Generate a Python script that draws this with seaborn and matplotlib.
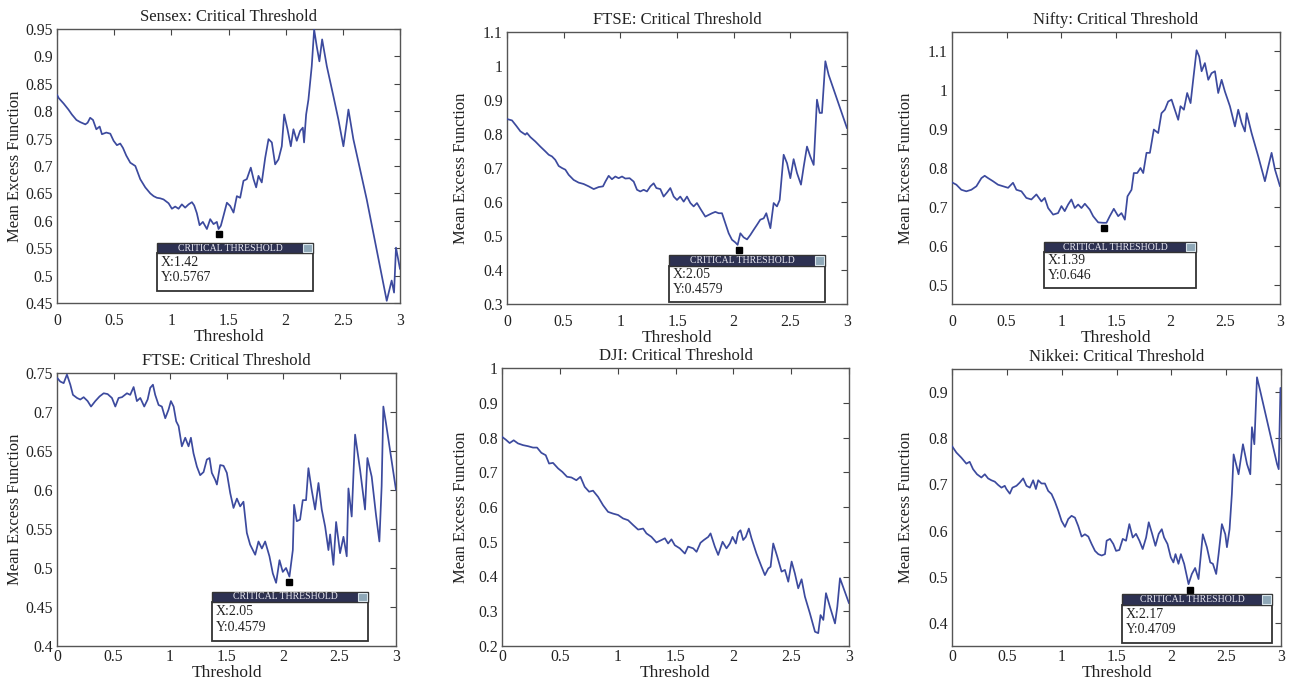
import matplotlib
matplotlib.use("Agg")
import matplotlib.pyplot as plt
from matplotlib.patches import Rectangle
from matplotlib.ticker import MultipleLocator, FuncFormatter
import pandas as pd
import seaborn as sns

# ---------------- data ----------------
titles = ["Sensex: Critical Threshold", "FTSE: Critical Threshold", "Nifty: Critical Threshold",
          "FTSE: Critical Threshold", "DJI: Critical Threshold", "Nikkei: Critical Threshold"]

sensex_x = [0, 0.015, 0.058, 0.10, 0.13, 0.17, 0.204, 0.248, 0.268, 0.29, 0.315, 0.344, 0.373, 0.393,
            0.431, 0.466, 0.495, 0.524, 0.553, 0.577, 0.606, 0.641, 0.685, 0.728, 0.772, 0.816, 0.845,
            0.874, 0.903, 0.932, 0.976, 1.005, 1.034, 1.063, 1.092, 1.121, 1.151, 1.180, 1.200, 1.223,
            1.247, 1.276, 1.311, 1.340, 1.369, 1.398, 1.413, 1.433, 1.456, 1.486, 1.515, 1.544, 1.573,
            1.602, 1.631, 1.660, 1.695, 1.719, 1.742, 1.762, 1.791, 1.821, 1.850, 1.879, 1.908, 1.937,
            1.966, 1.987, 2.016, 2.045, 2.068, 2.097, 2.126, 2.150, 2.161, 2.179, 2.199, 2.228, 2.249,
            2.272, 2.295, 2.319, 2.360, 2.418, 2.461, 2.505, 2.534, 2.549, 2.592, 2.709, 2.884, 2.927,
            2.948, 2.965, 3.0]
sensex_y = [0.830, 0.824, 0.814, 0.803, 0.794, 0.784, 0.780, 0.776, 0.779, 0.788, 0.784, 0.767, 0.772,
            0.758, 0.761, 0.759, 0.746, 0.738, 0.741, 0.733, 0.719, 0.706, 0.700, 0.676, 0.661, 0.650,
            0.645, 0.642, 0.641, 0.639, 0.632, 0.622, 0.626, 0.622, 0.630, 0.624, 0.630, 0.634, 0.628,
            0.614, 0.592, 0.598, 0.585, 0.603, 0.594, 0.598, 0.585, 0.591, 0.609, 0.633, 0.627, 0.615,
            0.645, 0.642, 0.673, 0.676, 0.697, 0.676, 0.661, 0.682, 0.670, 0.715, 0.749, 0.743, 0.703,
            0.712, 0.736, 0.794, 0.767, 0.736, 0.767, 0.746, 0.764, 0.770, 0.743, 0.794, 0.821, 0.882,
            0.949, 0.918, 0.891, 0.931, 0.882, 0.827, 0.785, 0.736, 0.779, 0.803, 0.749, 0.639, 0.454,
            0.491, 0.469, 0.551, 0.512]

ftse1_x = [0, 0.044, 0.082, 0.118, 0.162, 0.176, 0.206, 0.25, 0.294, 0.338, 0.368, 0.397, 0.426, 0.456,
           0.485, 0.515, 0.544, 0.588, 0.632, 0.676, 0.721, 0.765, 0.809, 0.847, 0.868, 0.897, 0.926,
           0.956, 0.985, 1.015, 1.044, 1.082, 1.118, 1.147, 1.176, 1.206, 1.235, 1.265, 1.294, 1.318,
           1.353, 1.382, 1.412, 1.441, 1.471, 1.5, 1.529, 1.559, 1.588, 1.618, 1.647, 1.676, 1.712, 1.75,
           1.779, 1.809, 1.838, 1.868, 1.897, 1.926, 1.956, 1.985, 2.015, 2.035, 2.059, 2.088, 2.118,
           2.147, 2.176, 2.206, 2.235, 2.265, 2.288, 2.324, 2.353, 2.382, 2.406, 2.441, 2.471, 2.5,
           2.529, 2.559, 2.594, 2.618, 2.647, 2.676, 2.706, 2.735, 2.759, 2.779, 2.809, 2.838, 3.0]
ftse1_y = [0.844, 0.840, 0.824, 0.808, 0.798, 0.803, 0.791, 0.778, 0.763, 0.749, 0.739, 0.734, 0.724,
           0.706, 0.700, 0.695, 0.680, 0.665, 0.657, 0.653, 0.646, 0.638, 0.644, 0.646, 0.660, 0.677,
           0.667, 0.675, 0.670, 0.675, 0.669, 0.670, 0.660, 0.636, 0.631, 0.636, 0.631, 0.646, 0.655,
           0.641, 0.638, 0.616, 0.628, 0.641, 0.616, 0.606, 0.616, 0.601, 0.616, 0.597, 0.587, 0.597,
           0.577, 0.557, 0.562, 0.567, 0.571, 0.567, 0.567, 0.538, 0.508, 0.489, 0.481, 0.474, 0.508,
           0.496, 0.490, 0.503, 0.518, 0.533, 0.548, 0.552, 0.567, 0.523, 0.597, 0.587, 0.606, 0.739,
           0.714, 0.670, 0.726, 0.685, 0.651, 0.704, 0.763, 0.734, 0.709, 0.901, 0.862, 0.862, 1.014,
           0.974, 0.817]

nifty_x = [0, 0.04, 0.085, 0.131, 0.177, 0.223, 0.269, 0.299, 0.33, 0.375, 0.421, 0.467, 0.513, 0.558,
           0.589, 0.635, 0.680, 0.726, 0.772, 0.818, 0.848, 0.879, 0.925, 0.970, 1.001, 1.031, 1.062,
           1.092, 1.123, 1.154, 1.184, 1.215, 1.260, 1.291, 1.337, 1.382, 1.413, 1.443, 1.480, 1.520,
           1.550, 1.581, 1.605, 1.642, 1.663, 1.694, 1.724, 1.749, 1.779, 1.810, 1.846, 1.886, 1.916,
           1.947, 1.977, 2.008, 2.038, 2.069, 2.090, 2.121, 2.151, 2.182, 2.206, 2.237, 2.261, 2.283,
           2.313, 2.344, 2.374, 2.405, 2.435, 2.466, 2.496, 2.542, 2.588, 2.618, 2.649, 2.679, 2.695,
           2.740, 2.801, 2.862, 2.893, 2.923, 2.954, 3.0]
nifty_y = [0.763, 0.757, 0.744, 0.740, 0.744, 0.753, 0.774, 0.780, 0.774, 0.766, 0.757, 0.753, 0.749,
           0.762, 0.744, 0.740, 0.723, 0.719, 0.732, 0.714, 0.723, 0.697, 0.680, 0.684, 0.702, 0.689,
           0.706, 0.719, 0.697, 0.706, 0.697, 0.708, 0.693, 0.676, 0.660, 0.659, 0.659, 0.676, 0.695,
           0.676, 0.684, 0.667, 0.727, 0.744, 0.787, 0.787, 0.800, 0.787, 0.839, 0.839, 0.899, 0.890,
           0.941, 0.950, 0.971, 0.976, 0.950, 0.924, 0.959, 0.950, 0.993, 0.967, 1.027, 1.103, 1.087,
           1.049, 1.070, 1.027, 1.044, 1.049, 0.993, 1.027, 0.997, 0.959, 0.907, 0.950, 0.916, 0.894,
           0.941, 0.890, 0.830, 0.766, 0.804, 0.839, 0.796, 0.753]

ftse2_x = [0, 0.029, 0.059, 0.088, 0.118, 0.141, 0.177, 0.206, 0.236, 0.271, 0.301, 0.339, 0.377, 0.413,
           0.448, 0.486, 0.516, 0.545, 0.575, 0.619, 0.648, 0.678, 0.707, 0.737, 0.772, 0.802, 0.825,
           0.849, 0.869, 0.899, 0.928, 0.958, 0.987, 1.008, 1.032, 1.055, 1.076, 1.105, 1.135, 1.164,
           1.185, 1.208, 1.238, 1.267, 1.297, 1.326, 1.350, 1.370, 1.400, 1.415, 1.444, 1.474, 1.503,
           1.533, 1.562, 1.592, 1.621, 1.650, 1.680, 1.709, 1.754, 1.783, 1.813, 1.842, 1.880, 1.910,
           1.939, 1.969, 1.998, 2.027, 2.057, 2.087, 2.098, 2.122, 2.151, 2.175, 2.204, 2.225, 2.254,
           2.284, 2.314, 2.343, 2.373, 2.402, 2.417, 2.446, 2.470, 2.505, 2.535, 2.564, 2.579, 2.608,
           2.638, 2.682, 2.726, 2.747, 2.785, 2.823, 2.853, 2.873, 2.888, 2.911, 3.0]
ftse2_y = [0.744, 0.739, 0.737, 0.748, 0.735, 0.722, 0.718, 0.716, 0.719, 0.714, 0.707, 0.714, 0.720,
           0.724, 0.723, 0.718, 0.707, 0.718, 0.719, 0.724, 0.722, 0.732, 0.714, 0.718, 0.707, 0.716,
           0.731, 0.735, 0.722, 0.709, 0.707, 0.692, 0.703, 0.714, 0.707, 0.688, 0.682, 0.656, 0.667,
           0.656, 0.667, 0.647, 0.630, 0.619, 0.623, 0.639, 0.641, 0.622, 0.613, 0.607, 0.632, 0.631,
           0.622, 0.596, 0.577, 0.589, 0.579, 0.585, 0.545, 0.530, 0.517, 0.534, 0.525, 0.534, 0.515,
           0.493, 0.481, 0.510, 0.495, 0.500, 0.489, 0.523, 0.581, 0.560, 0.562, 0.587, 0.587, 0.628,
           0.600, 0.575, 0.609, 0.575, 0.553, 0.523, 0.543, 0.504, 0.559, 0.519, 0.540, 0.515, 0.602,
           0.566, 0.671, 0.626, 0.575, 0.641, 0.617, 0.568, 0.534, 0.605, 0.707, 0.686, 0.600]

dji_x = [0, 0.032, 0.066, 0.101, 0.138, 0.182, 0.225, 0.268, 0.303, 0.340, 0.378, 0.407, 0.441, 0.485,
         0.522, 0.562, 0.600, 0.643, 0.678, 0.715, 0.753, 0.787, 0.831, 0.874, 0.917, 0.960, 1.004,
         1.047, 1.090, 1.134, 1.177, 1.220, 1.249, 1.292, 1.335, 1.379, 1.408, 1.436, 1.465, 1.494,
         1.537, 1.581, 1.609, 1.653, 1.682, 1.716, 1.745, 1.783, 1.803, 1.840, 1.869, 1.907, 1.941,
         1.970, 1.993, 2.022, 2.042, 2.062, 2.085, 2.108, 2.134, 2.157, 2.200, 2.244, 2.273, 2.302,
         2.322, 2.345, 2.380, 2.417, 2.446, 2.475, 2.504, 2.532, 2.561, 2.590, 2.619, 2.662, 2.706,
         2.734, 2.754, 2.778, 2.801, 2.835, 2.879, 2.899, 2.922, 3.0]
dji_y = [0.802, 0.794, 0.784, 0.792, 0.783, 0.778, 0.775, 0.771, 0.771, 0.756, 0.749, 0.725, 0.727,
         0.711, 0.701, 0.687, 0.685, 0.677, 0.687, 0.658, 0.644, 0.647, 0.629, 0.605, 0.586, 0.581,
         0.577, 0.567, 0.562, 0.548, 0.535, 0.538, 0.524, 0.514, 0.498, 0.505, 0.510, 0.495, 0.507,
         0.490, 0.481, 0.466, 0.486, 0.481, 0.471, 0.497, 0.505, 0.514, 0.524, 0.486, 0.462, 0.500,
         0.481, 0.495, 0.514, 0.495, 0.526, 0.533, 0.505, 0.514, 0.538, 0.510, 0.466, 0.428, 0.404,
         0.423, 0.428, 0.495, 0.457, 0.414, 0.419, 0.385, 0.443, 0.409, 0.366, 0.392, 0.342, 0.294,
         0.241, 0.237, 0.289, 0.275, 0.352, 0.313, 0.265, 0.313, 0.395, 0.323]

nikkei_x = [0, 0.040, 0.085, 0.131, 0.161, 0.192, 0.228, 0.268, 0.299, 0.329, 0.359, 0.390, 0.420,
            0.451, 0.481, 0.496, 0.527, 0.551, 0.588, 0.618, 0.649, 0.679, 0.710, 0.740, 0.765, 0.786,
            0.816, 0.847, 0.877, 0.908, 0.938, 0.969, 0.999, 1.030, 1.060, 1.090, 1.121, 1.151, 1.182,
            1.212, 1.243, 1.273, 1.304, 1.334, 1.365, 1.395, 1.410, 1.441, 1.471, 1.496, 1.526, 1.557,
            1.587, 1.617, 1.648, 1.678, 1.709, 1.739, 1.770, 1.794, 1.825, 1.855, 1.885, 1.913, 1.934,
            1.965, 1.995, 2.019, 2.038, 2.065, 2.087, 2.117, 2.157, 2.187, 2.217, 2.248, 2.287, 2.324,
            2.355, 2.379, 2.409, 2.431, 2.461, 2.492, 2.507, 2.531, 2.552, 2.568, 2.613, 2.653, 2.690,
            2.720, 2.735, 2.757, 2.781, 2.811, 2.964, 2.979, 2.995]
nikkei_y = [0.783, 0.769, 0.758, 0.745, 0.749, 0.733, 0.722, 0.715, 0.722, 0.713, 0.709, 0.706, 0.699,
            0.693, 0.697, 0.690, 0.680, 0.693, 0.697, 0.704, 0.713, 0.697, 0.693, 0.709, 0.690, 0.709,
            0.702, 0.702, 0.686, 0.679, 0.663, 0.643, 0.621, 0.608, 0.625, 0.632, 0.628, 0.610, 0.587,
            0.592, 0.587, 0.571, 0.556, 0.549, 0.546, 0.549, 0.578, 0.582, 0.571, 0.556, 0.558, 0.582,
            0.578, 0.614, 0.585, 0.593, 0.578, 0.560, 0.585, 0.618, 0.593, 0.567, 0.593, 0.603, 0.585,
            0.571, 0.542, 0.531, 0.549, 0.528, 0.549, 0.528, 0.484, 0.506, 0.519, 0.495, 0.592, 0.564,
            0.531, 0.528, 0.506, 0.549, 0.614, 0.592, 0.564, 0.603, 0.679, 0.765, 0.722, 0.787, 0.744,
            0.722, 0.824, 0.787, 0.932, 0.902, 0.744, 0.733, 0.909]

series_x = [sensex_x, ftse1_x, nifty_x, ftse2_x, dji_x, nikkei_x]
series_y = [sensex_y, ftse1_y, nifty_y, ftse2_y, dji_y, nikkei_y]

# critical threshold data tips (None = no tip)
crit_x = [1.42, 2.05, 1.39, 2.05, None, 2.17]
crit_y = [0.5767, 0.4579, 0.646, 0.482, None, 0.4709]
tip_x_text = ["X:1.42", "X:2.05", "X:1.39", "X:2.05", None, "X:2.17"]
tip_y_text = ["Y:0.5767", "Y:0.4579", "Y:0.646", "Y:0.4579", None, "Y:0.4709"]
tip_header = "CRITICAL THRESHOLD"

ylims = [(0.45, 0.95), (0.3, 1.1), (0.45, 1.15), (0.4, 0.75), (0.2, 1.0), (0.35, 0.95)]
ysteps = [0.05, 0.1, 0.1, 0.05, 0.1, 0.1]

# ---------------- layout / style ----------------
W, H = 1289, 683
axes_px = [(57, 29, 400, 303), (507, 32, 847, 304), (952, 32, 1280, 304),
           (57, 373, 396, 646), (502, 368, 849, 646), (952, 369, 1281, 646)]
ylabel_x = [-0.099, -0.112, -0.116, -0.100, -0.095, -0.116]
xtick_pad = [7, 7, 7, 2, 2, 2]
# tip boxes in axes fraction: left, right, bottom, header_bottom, top
tip_boxes = [(0.292, 0.746, 0.044, 0.182, 0.219), (0.476, 0.935, 0.007, 0.14, 0.18),
             (0.28, 0.744, 0.059, 0.191, 0.228), (0.457, 0.917, 0.018, 0.161, 0.198),
             None, (0.517, 0.973, 0.011, 0.148, 0.188)]

sns.set_theme(style="white")
plt.rcParams['font.family'] = ['Liberation Serif', 'DejaVu Serif']

line_color = "#3c4a9e"
text_color = "#222222"

fig = plt.figure(figsize=(W / 100, H / 100), dpi=100)
fig.patch.set_facecolor("white")

fmt = FuncFormatter(lambda v, p: f"{round(v, 3):g}")

for i in range(6):
    l, t, r, b = axes_px[i]
    ax = fig.add_axes([l / W, (H - b) / H, (r - l) / W, (b - t) / H])
    df = pd.DataFrame({"Threshold": series_x[i], "MEF": series_y[i]})
    sns.lineplot(data=df, x="Threshold", y="MEF", ax=ax, color=line_color, linewidth=1.25,
                 estimator=None, sort=False, zorder=3)
    ax.set_xlim(0, 3)
    ax.set_ylim(*ylims[i])
    ax.xaxis.set_major_locator(MultipleLocator(0.5))
    ax.yaxis.set_major_locator(MultipleLocator(ysteps[i]))
    ax.xaxis.set_major_formatter(fmt)
    ax.yaxis.set_major_formatter(fmt)
    ax.tick_params(direction="in", length=4, width=0.8, top=True, right=True,
                   labelsize=11.3, colors="#444444", labelcolor=text_color)
    ax.tick_params(axis="x", pad=xtick_pad[i])
    ax.tick_params(axis="y", pad=3)
    for s in ax.spines.values():
        s.set_color("#555555")
        s.set_linewidth(1.0)
        s.set_visible(True)
    ax.set_title(titles[i], fontsize=12, color=text_color, pad=6)
    ax.set_xlabel("Threshold", fontsize=12.5, color=text_color, labelpad=0)
    ax.set_ylabel("Mean Excess Function", fontsize=12, color=text_color)
    ax.yaxis.set_label_coords(ylabel_x[i], 0.5)

    if crit_x[i] is not None:
        ax.plot([crit_x[i]], [crit_y[i]], marker="s", color="black", markersize=4.8,
                linestyle="none", zorder=6, clip_on=False)
        bl, br, bb, bh, bt = tip_boxes[i]
        axw = r - l
        ax.add_patch(Rectangle((bl, bb), br - bl, bh - bb, transform=ax.transAxes,
                               facecolor="white", edgecolor="#333333", linewidth=1.3,
                               zorder=7, clip_on=False))
        ax.add_patch(Rectangle((bl, bh), br - bl, bt - bh, transform=ax.transAxes,
                               facecolor="#2d3152", edgecolor="#333333", linewidth=1.0,
                               zorder=8, clip_on=False))
        iw = 9 / axw
        ax.add_patch(Rectangle((br - iw - 1 / axw, bh + 0.1 * (bt - bh)), iw, 0.8 * (bt - bh),
                               transform=ax.transAxes, facecolor="#8fa8b8", edgecolor="#d8e4ea",
                               linewidth=0.8, zorder=9, clip_on=False))
        ax.text((bl + br - iw) / 2, (bh + bt) / 2, tip_header, transform=ax.transAxes,
                ha="center", va="center", fontsize=7, color="#e8e8f0", zorder=10)
        body = bh - bb
        ax.text(bl + 4 / axw, bh - 0.24 * body, tip_x_text[i], transform=ax.transAxes,
                ha="left", va="center", fontsize=10, color=text_color, zorder=10)
        ax.text(bl + 4 / axw, bh - 0.64 * body, tip_y_text[i], transform=ax.transAxes,
                ha="left", va="center", fontsize=10, color=text_color, zorder=10)

fig.savefig("out.png", dpi=100, facecolor="white")
